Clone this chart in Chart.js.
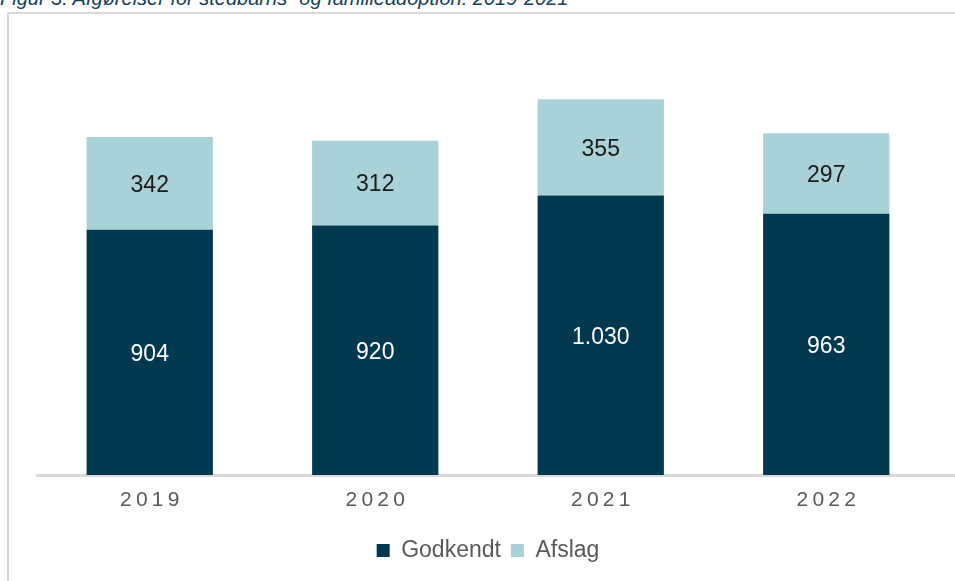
<!DOCTYPE html>
<html>
<head>
<meta charset="utf-8">
<script src="https://cdn.jsdelivr.net/npm/chart.js@4.4.1/dist/chart.umd.min.js"></script>
<style>
  html, body { margin: 0; padding: 0; background: #fff; overflow: hidden; }
  #wrap { position: relative; width: 955px; height: 581px; overflow: hidden; }
  #frame { position: absolute; left: 7px; top: 12px; width: 980px; height: 620px; border: 2px solid #d9d9d9; box-sizing: border-box; }
  #title { position: absolute; left: 0; top: -12px; font: italic 20px/20px "Liberation Sans", Arial, sans-serif; color: #12405a; white-space: nowrap; }
  #chart { position: absolute; left: 0; top: 0; }
</style>
</head>
<body>
<div id="wrap">
  <div id="title">Figur 3: Afgørelser for stedbarns- og familieadoption: 2019-2021</div>
  <div id="frame"></div>
  <canvas id="chart" width="955" height="581"></canvas>
</div>
<script>
var years = ["2019", "2020", "2021", "2022"];
var godkendt = [904, 920, 1030, 963];
var afslag = [342, 312, 355, 297];

function fmt(n) {
    return String(n).replace(/\B(?=(\d{3})+(?!\d))/g, ".");
}

// labels in the middle of each bar segment
var segmentLabels = {
    id: 'segmentLabels',
    afterDatasetsDraw: function(chart) {
        var ctx = chart.ctx;
        ctx.save();
        ctx.font = '23px "Liberation Sans", Arial, sans-serif';
        ctx.textAlign = 'center';
        ctx.textBaseline = 'middle';
        chart.data.datasets.forEach(function(ds, i) {
            var meta = chart.getDatasetMeta(i);
            ctx.fillStyle = i === 0 ? '#ffffff' : '#1a1a1a';
            meta.data.forEach(function(bar, j) {
                ctx.fillText(fmt(ds.data[j]), bar.x, (bar.y + bar.base) / 2 + 2);
            });
        });
        ctx.restore();
    }
};

// baseline runs on to the right edge
var baseline = {
    id: 'baseline',
    afterDraw: function(chart) {
        var ctx = chart.ctx;
        var y = chart.scales.x.top;
        ctx.save();
        ctx.strokeStyle = '#d9d9d9';
        ctx.lineWidth = 3;
        ctx.beginPath();
        ctx.moveTo(chart.chartArea.right, y + 0.5);
        ctx.lineTo(chart.width, y + 0.5);
        ctx.stroke();
        ctx.restore();
    }
};

var ctx = document.getElementById("chart").getContext('2d');
var myChart = new Chart(ctx, {
    type: 'bar',
    data: {
        labels: years,
        datasets: [{
            label: "Godkendt",
            backgroundColor: "#023850",
            data: godkendt
        }, {
            label: "Afslag",
            backgroundColor: "#a8d2d8",
            data: afslag
        }]
    },
    options: {
        responsive: false,
        animation: false,
        devicePixelRatio: 1,
        layout: { padding: { left: 37, right: 16, top: 41, bottom: 9 } },
        datasets: { bar: { categoryPercentage: 1, barPercentage: 0.56 } },
        scales: {
            x: {
                stacked: true,
                grid: { display: false, drawTicks: false },
                border: { display: true, color: '#d9d9d9', width: 3 },
                ticks: {
                    padding: 13,
                    color: '#595959',
                    font: { family: '"Liberation Sans", Arial, sans-serif', size: 21 },
                    callback: function(v, i) { return years[i].split('').join('\u2009'); }
                },
                afterFit: function(scale) { scale.height = 54; }
            },
            y: {
                stacked: true,
                display: false,
                min: 0,
                max: 1600
            }
        },
        plugins: {
            legend: {
                position: 'bottom',
                labels: {
                    boxWidth: 13,
                    boxHeight: 13,
                    padding: 10,
                    color: '#595959',
                    font: { family: '"Liberation Sans", Arial, sans-serif', size: 23 }
                }
            },
            tooltip: { enabled: false }
        }
    },
    plugins: [segmentLabels, baseline]
});
</script>
</body>
</html>
